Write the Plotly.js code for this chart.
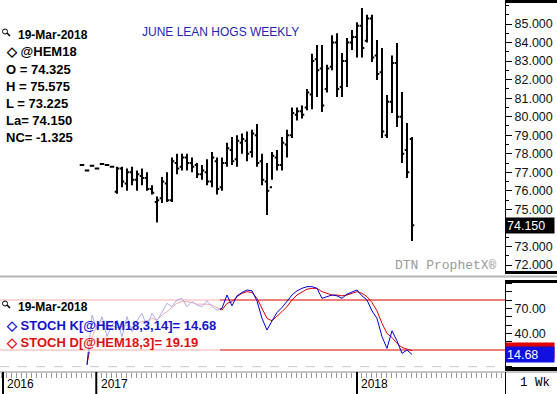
<!DOCTYPE html>
<html><head><meta charset="utf-8">
<script src="https://cdn.plot.ly/plotly-3.0.1.min.js"></script>
<style>html,body{margin:0;padding:0;background:#fff;}#chart{width:557px;height:394px;}</style>
</head><body><div id="chart"></div>
<script>
// ---- data ----
const dates = ['2016-12-12','2016-12-19','2016-12-26','2017-01-02','2017-01-09','2017-01-16','2017-01-23','2017-01-30','2017-02-06','2017-02-13','2017-02-20','2017-02-27','2017-03-06','2017-03-13','2017-03-20','2017-03-27','2017-04-03','2017-04-10','2017-04-17','2017-04-24','2017-05-01','2017-05-08','2017-05-15','2017-05-22','2017-05-29','2017-06-05','2017-06-12','2017-06-19','2017-06-26','2017-07-03','2017-07-10','2017-07-17','2017-07-24','2017-07-31','2017-08-07','2017-08-14','2017-08-21','2017-08-28','2017-09-04','2017-09-11','2017-09-18','2017-09-25','2017-10-02','2017-10-09','2017-10-16','2017-10-23','2017-10-30','2017-11-06','2017-11-13','2017-11-20','2017-11-27','2017-12-04','2017-12-11','2017-12-18','2017-12-25','2018-01-01','2018-01-08','2018-01-15','2018-01-22','2018-01-29','2018-02-05','2018-02-12','2018-02-19','2018-02-26','2018-03-05','2018-03-12','2018-03-19'];
const openP  = [77.40,77.10,77.35,77.20,77.45,77.40,77.30,75.95,77.20,76.40,77.00,76.60,76.80,76.70,76.10,75.40,75.60,76.40,75.50,77.50,77.30,77.80,77.50,77.40,76.90,77.00,76.50,77.60,76.20,77.50,78.20,77.70,78.60,78.70,78.10,79.00,77.60,76.50,76.20,77.80,77.40,78.50,79.00,80.10,80.30,80.50,81.20,83.10,82.60,81.50,82.70,84.00,81.60,83.00,84.00,84.30,84.90,84.10,85.30,83.30,82.40,79.00,80.80,82.90,80.00,78.20,78.80];
const highP  = [77.45,77.15,77.40,77.25,77.50,77.45,77.35,77.30,77.30,77.20,77.30,77.10,77.20,77.00,76.30,75.70,76.75,77.00,77.80,78.00,78.00,78.00,77.80,77.50,77.40,77.70,78.10,77.80,77.80,78.60,78.90,79.00,79.10,79.20,79.30,79.60,78.00,77.50,78.10,78.20,78.90,79.30,80.50,80.50,80.60,81.50,83.40,83.87,83.87,82.80,84.40,84.50,83.44,84.24,84.68,85.10,85.86,85.50,85.50,84.14,83.70,81.17,83.30,83.98,81.33,79.66,78.90];
const lowP   = [77.35,77.05,77.30,77.15,77.40,77.35,77.25,75.85,76.20,76.00,76.30,76.00,76.30,76.00,75.80,74.30,75.35,75.40,75.40,76.90,77.10,77.10,77.00,76.70,76.60,76.30,76.20,75.80,76.00,77.30,77.40,77.30,78.00,77.60,77.80,77.30,76.30,74.70,76.60,77.10,77.10,77.80,78.85,79.80,79.90,80.35,80.40,81.06,80.25,81.30,82.50,81.06,81.06,81.60,83.60,83.20,83.20,84.00,82.95,81.98,78.85,78.85,80.20,79.44,77.50,76.69,73.30];
const closeP = [77.40,77.10,77.35,77.20,77.45,77.40,77.30,77.20,76.50,77.00,76.60,76.90,76.70,76.10,75.90,75.50,76.50,75.50,77.60,77.20,77.80,77.50,77.30,76.90,77.10,76.50,77.80,76.10,77.50,78.30,77.60,78.70,78.80,78.00,79.10,77.50,76.60,76.00,77.90,77.40,78.60,79.00,80.20,80.30,80.10,81.30,83.00,82.50,80.60,82.60,84.00,81.50,83.00,84.00,84.30,84.90,83.70,85.30,83.20,82.30,79.20,80.80,82.90,80.00,78.00,77.00,74.15];
const stochK = [null,2,62,45,60,36,50,56,36,60,42,55,64,48,64,55,66,76,72,80,82,72,78,74,72,79,72,68,70,86,73,85,89,92,91,79,58,44,55,65,71,78,86,91,94,96,96,94,82,84,86,85,82,87,90,92,85,80,67,58,36,22,43,31,16,20,14.68];
const stochD = [null,3,35,50,55,47,49,47,48,50,46,52,54,55,58,56,62,66,71,76,78,78,77,75,75,75,74,71,68,76,78,84,88,90,89,82,70,58,55,60,66,72,80,86,90,93,94,94,90,88,86,86,85,86,88,90,88,84,77,67,52,40,35,28,23,21,19.19];
const priceTicks = [72,73,74,75,76,77,78,79,80,81,82,83,84,85];
const priceTickText = ['72.000','73.000','','75.000','76.000','77.000','78.000','79.000','80.000','81.000','82.000','83.000','84.000','85.000'];
const stochTickVals = [0,10,20,30,40,50,60,70,80,90,100];
const stochTickText = ['','','','','40.00','','','70.00','','',''];
const yearLabels = ['2016','2017','2018'];
const legendLines = ['O = 74.325','H = 75.575','L = 73.225','La= 74.150','NC= -1.325'];

// ---- helpers (pixel -> paper) ----
const W = 557, H = 394;
const X = px => px / W;
const Y = py => 1 - py / H;
const xr = ['2016-08-19 05:00', '2018-07-27 05:00'];
const F = 'Liberation Sans, Arial, sans-serif';

const traces = [
  {type:'ohlc', x:dates, open:openP, high:highP, low:lowP, close:closeP, xaxis:'x', yaxis:'y',
   increasing:{line:{color:'#000', width:2}}, decreasing:{line:{color:'#000', width:2}},
   tickwidth:0.45, hoverinfo:'skip'},
  {type:'scatter', mode:'lines', x:dates, y:stochD, xaxis:'x2', yaxis:'y2', line:{color:'#dd0000', width:1}, hoverinfo:'skip'},
  {type:'scatter', mode:'lines', x:dates, y:stochK, xaxis:'x2', yaxis:'y2', line:{color:'#0000dd', width:1}, hoverinfo:'skip'}
];

const rectP = (x0,x1,y0,y1,color,layer) => ({type:'rect', xref:'paper', yref:'paper', x0:X(x0), x1:X(x1), y0:Y(y1), y1:Y(y0), fillcolor:color, line:{width:0}, layer:layer||'above'});
const lineP = (x0,y0,x1,y1,color,w,dash) => ({type:'line', xref:'paper', yref:'paper', x0:X(x0), y0:Y(y0), x1:X(x1), y1:Y(y1), line:{color:color, width:w, dash:dash||'solid'}, layer:'above'});

const shapes = [
  rectP(505,557,0,3,'#000'),
  rectP(505,557,271,274,'#000'),
  lineP(0,276.5,557,276.5,'#b4b4b4',2),
  rectP(505,557,280,283,'#000'),
  rectP(505,557,367,371,'#000'),
  lineP(0,372,557,372,'#8a8a8a',1),
  lineP(505.5,372,505.5,394,'#000',1),
  lineP(3,372,3,394,'#000',2),
  {type:'line', xref:'x2', yref:'paper', x0:'2017-01-01', x1:'2017-01-01', y0:0, y1:Y(372), line:{color:'#000', width:2}},
  {type:'line', xref:'x2', yref:'paper', x0:'2018-01-01', x1:'2018-01-01', y0:0, y1:Y(372), line:{color:'#000', width:2}},
  {type:'line', xref:'paper', yref:'y2', x0:0, x1:X(505), y0:80, y1:80, line:{color:'#dd0000', width:1}, layer:'below'},
  {type:'line', xref:'paper', yref:'y2', x0:0, x1:X(505), y0:20, y1:20, line:{color:'#dd0000', width:1}, layer:'below'},
  {type:'line', xref:'paper', yref:'y2', x0:0, x1:X(505), y0:0, y1:0, line:{color:'#c8c8c8', width:1, dash:'dash'}, layer:'below'},
  rectP(0,220,284,352,'rgba(255,255,255,0.68)'),
  // magnifier icons
  {type:'circle', xref:'paper', yref:'paper', x0:X(2.5), x1:X(7.5), y0:Y(34), y1:Y(29), line:{color:'#000', width:1}},
  lineP(7,33,10,36,'#000',1.5),
  {type:'circle', xref:'paper', yref:'paper', x0:X(2.5), x1:X(7.5), y0:Y(306), y1:Y(301), line:{color:'#000', width:1}},
  lineP(7,305,10,308,'#000',1.5)
];

const ann = (text,x,y,opts) => Object.assign({text:text, xref:'paper', yref:'paper', x:X(x), y:Y(y), xanchor:'left', yanchor:'middle', showarrow:false, font:{family:F, size:12, color:'#000'}}, opts||{});

const annotations = [
  ann('JUNE LEAN HOGS WEEKLY', 220, 32, {xanchor:'center', font:{family:F, size:12, color:'#1e28b0'}}),
  ann('<b>19-Mar-2018</b>', 16, 35),
  ann('<b>◇ @HEM18</b>', 4, 52, {font:{family:F, size:13, color:'#000'}}),
  ann('DTN ProphetX®', 446, 265, {xanchor:'center', font:{family:'Liberation Mono, monospace', size:13, color:'#9a9a9a'}}),
  ann('<b>19-Mar-2018</b>', 16, 307),
  ann('<b>◇ STOCH K[@HEM18,3,14]= 14.68</b>', 4, 325, {font:{family:F, size:13, color:'#1414cc'}}),
  ann('<b>◇ STOCH D[@HEM18,3]= 19.19</b>', 4, 342, {font:{family:F, size:13, color:'#dd1111'}}),
  ann('1 Wk', 535, 383, {xanchor:'center', font:{family:'Liberation Mono, monospace', size:12.5, color:'#000'}}),
  {text:'74.150', xref:'paper', yref:'y', x:X(505), y:closeP[closeP.length-1], xanchor:'left', yanchor:'middle', showarrow:false,
   bgcolor:'#000', width:46, height:13, borderpad:1, align:'left', font:{family:F, size:12.5, color:'#fff'}},
  {text:' ', xref:'paper', yref:'y2', x:X(505), y:stochD[stochD.length-1], xanchor:'left', yanchor:'middle', showarrow:false,
   bgcolor:'#e00000', width:46, height:13, borderpad:1},
  {text:'14.68', xref:'paper', yref:'y2', x:X(505), y:stochK[stochK.length-1], xanchor:'left', yanchor:'middle', showarrow:false,
   bgcolor:'#1010e0', width:46, height:13, borderpad:1, align:'left', font:{family:F, size:12.5, color:'#fff'}}
];
legendLines.forEach((t,i) => annotations.push(ann('<b>'+t+'</b>', 4, 70 + i*16.8, {font:{family:F, size:13, color:'#000'}})));
const yearPos = [5, 99, 359];
yearLabels.forEach((t,i) => annotations.push(ann(t, yearPos[i], 384, {font:{family:F, size:12, color:'#000'}})));

const layout = {
  width:W, height:H, margin:{l:0, r:0, t:0, b:0}, paper_bgcolor:'#fff', plot_bgcolor:'#fff', showlegend:false,
  font:{family:F, size:12, color:'#111'},
  xaxis:{domain:[0, X(505)], range:xr, type:'date', anchor:'y', showticklabels:false, ticks:'', showgrid:false, zeroline:false, showline:false, rangeslider:{visible:false}},
  yaxis:{domain:[Y(273), Y(3)], range:[71.57, 86.133], side:'right', anchor:'x', tickmode:'array', tickvals:priceTicks, ticktext:priceTickText,
         ticks:'outside', ticklen:6, tickcolor:'#000', showline:true, linecolor:'#000', linewidth:1, showgrid:false, zeroline:false,
         minor:{tickmode:'linear', tick0:0, dtick:0.5, ticks:'outside', ticklen:3, tickcolor:'#000', showgrid:false},
         tickfont:{family:F, size:12.5, color:'#111'}},
  xaxis2:{domain:[0, X(505)], range:xr, type:'date', anchor:'free', position:Y(372), showticklabels:false, ticks:'outside',
          tickmode:'linear', tick0:'2016-12-12', dtick:604800000, ticklen:5, tickcolor:'#999', showgrid:false, zeroline:false, showline:false},
  yaxis2:{domain:[Y(369), Y(281)], range:[-2.8, 102.8], side:'right', anchor:'x2', tickmode:'array', tickvals:stochTickVals, ticktext:stochTickText,
          ticks:'outside', ticklen:6, tickcolor:'#000', showline:true, linecolor:'#000', linewidth:1, showgrid:false, zeroline:false,
          tickfont:{family:F, size:12.5, color:'#111'}},
  shapes:shapes, annotations:annotations
};

Plotly.newPlot('chart', traces, layout, {staticPlot:true, displayModeBar:false});
</script></body></html>
